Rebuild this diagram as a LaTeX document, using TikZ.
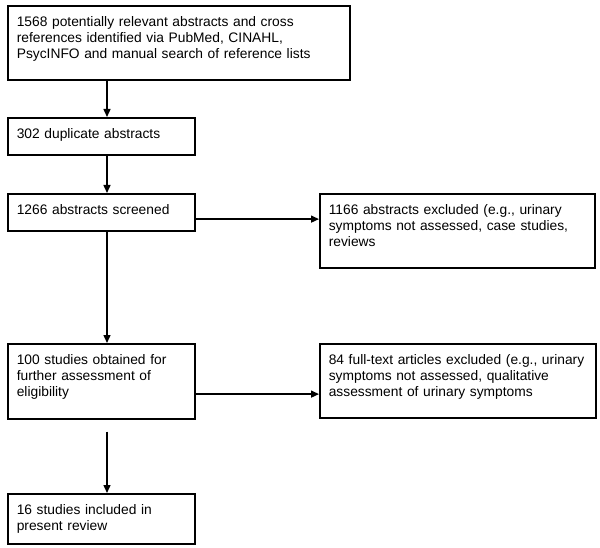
\documentclass[tikz,border=0pt]{standalone}
\usepackage{fontspec}
\setmainfont{Liberation Sans}
\usepackage{tikz}
\usetikzlibrary{positioning,arrows.meta}

\begin{document}
\begin{tikzpicture}[
  x=1pt, y=-1pt,
  stage/.style={draw,line width=1.6pt,anchor=north west,align=left,
    inner xsep=9pt,inner ysep=10.5pt,text height=10pt,
    font=\fontsize{13.8}{16}\selectfont},
  flow/.style={line width=1.4pt,-{Triangle[length=8pt,width=7pt]}}
    ]
\useasboundingbox (0,0) rectangle (600,548);

\node[stage,text width=324pt,text depth=43pt] (found) at (7,5)
  {1568 potentially relevant abstracts and cross\\references identified via PubMed, CINAHL,\\PsycINFO and manual search of reference lists};
\node[stage,text width=169pt,text depth=6pt] (dup) at (7,117) {302 duplicate abstracts};
\node[stage,text width=169pt,text depth=6pt] (screen) at (7,193) {1266 abstracts screened};
\node[stage,text width=257pt,text depth=43pt] (absex) at (319,193)
  {1166 abstracts excluded (e.g., urinary\\symptoms not assessed, case studies,\\reviews};
\node[stage,text width=169pt,text depth=44pt] (full) at (7,343)
  {100 studies obtained for\\further assessment of\\eligibility};
\node[stage,text width=258pt,text depth=43pt] (fullex) at (319,343)
  {84 full-text articles excluded (e.g., urinary\\symptoms not assessed, qualitative\\assessment of urinary symptoms};
\node[stage,text width=169pt,text depth=19pt] (incl) at (7,493)
  {16 studies included in\\present review};

\coordinate (fullout) at ([xshift=100pt,yshift=-12pt]full.south west);

\draw[flow] ([xshift=100pt]found.south west) -- ([xshift=100pt]dup.north west);
\draw[flow] ([xshift=100pt]dup.south west) -- ([xshift=100pt]screen.north west);
\draw[flow] ([xshift=100pt]screen.south west) -- ([xshift=100pt]full.north west);
\draw[flow] ([yshift=12.5pt]screen.south east) -- ([yshift=12.5pt]screen.south east -| absex.west);
\draw[flow] ([yshift=25.5pt]full.south east) -- ([yshift=25.5pt]full.south east -| fullex.west);
\draw[flow] (fullout) -- ([xshift=100pt]incl.north west);
\end{tikzpicture}
\end{document}
